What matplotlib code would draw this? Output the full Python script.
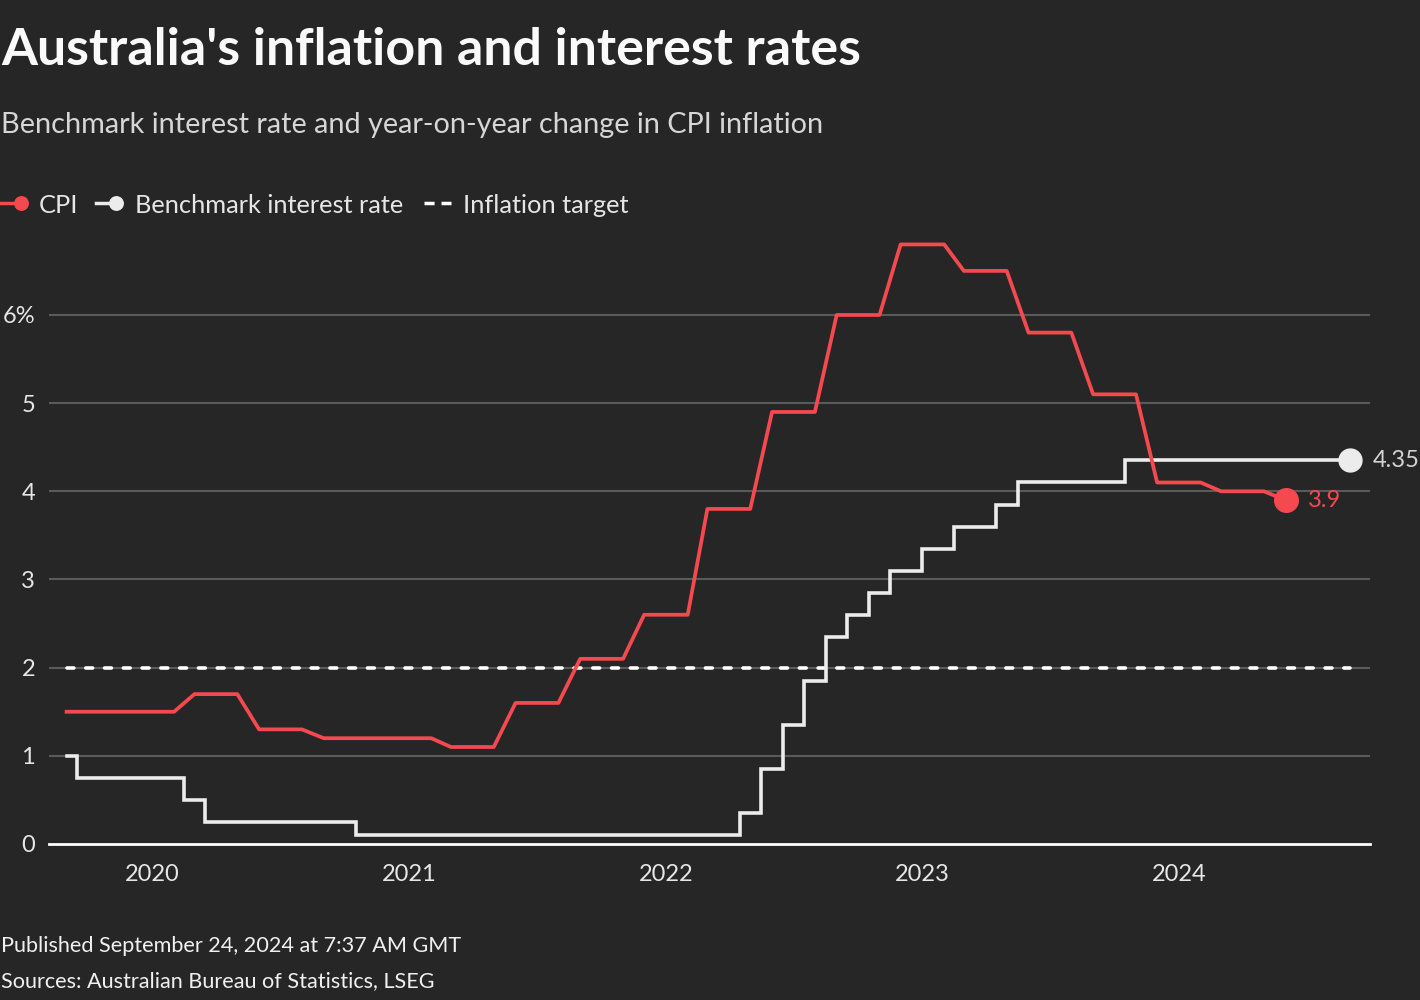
import matplotlib
matplotlib.use("Agg")
import matplotlib.pyplot as plt
import pandas as pd
from matplotlib.lines import Line2D

# CPI, year-on-year %, monthly from Sep 2019 (each quarterly print held three months)
cpi_start = "2019-09-01"
cpi = [
    1.5, 1.5, 1.5, 1.5,
    1.5, 1.5, 1.7, 1.7, 1.7, 1.3, 1.3, 1.3, 1.2, 1.2, 1.2, 1.2,
    1.2, 1.2, 1.1, 1.1, 1.1, 1.6, 1.6, 1.6, 2.1, 2.1, 2.1, 2.6,
    2.6, 2.6, 3.8, 3.8, 3.8, 4.9, 4.9, 4.9, 6.0, 6.0, 6.0, 6.8,
    6.8, 6.8, 6.5, 6.5, 6.5, 5.8, 5.8, 5.8, 5.1, 5.1, 5.1, 4.1,
    4.1, 4.1, 4.0, 4.0, 4.0, 3.9,
]

# RBA cash rate, monthly Sep 2019 - Sep 2024 (no January 2023 reading)
rate_start, rate_end, rate_gap = "2019-09-01", "2024-09-01", "2023-01-01"
rate = [
    1.0, 0.75, 0.75, 0.75,
    0.75, 0.75, 0.5, 0.25, 0.25, 0.25, 0.25, 0.25, 0.25, 0.25, 0.1, 0.1,
    0.1, 0.1, 0.1, 0.1, 0.1, 0.1, 0.1, 0.1, 0.1, 0.1, 0.1, 0.1,
    0.1, 0.1, 0.1, 0.1, 0.35, 0.85, 1.35, 1.85, 2.35, 2.6, 2.85, 3.1,
    3.35, 3.6, 3.6, 3.85, 4.1, 4.1, 4.1, 4.1, 4.1, 4.35, 4.35,
    4.35, 4.35, 4.35, 4.35, 4.35, 4.35, 4.35, 4.35, 4.35,
]

target = 2.0
years = [2020, 2021, 2022, 2023, 2024]
yticks = [0, 1, 2, 3, 4, 5, 6]
ylabels = ["0", "1", "2", "3", "4", "5", "6%"]

cpi_dates = pd.date_range(cpi_start, periods=len(cpi), freq="MS")
months = pd.date_range(rate_start, rate_end, freq="MS")
rate_dates = months[months != pd.Timestamp(rate_gap)]

BG = "#262626"
RED = "#f4494f"
WHITE = "#ececec"
GRID = "#5a5a5a"
TXT = "#e6e6e6"

plt.rcParams["font.family"] = ["Lato", "DejaVu Sans"]

W, H = 1420, 1000
fig = plt.figure(figsize=(W / 100, H / 100), dpi=100, facecolor=BG)
ax = fig.add_axes([49 / W, 156 / H, 1321 / W, 617.2 / H])
ax.set_facecolor(BG)

ax.plot(rate_dates, rate, color=WHITE, lw=2.6, drawstyle="steps-mid",
        solid_joinstyle="miter", zorder=4)
ax.plot(cpi_dates, cpi, color=RED, lw=2.7, solid_joinstyle="round", zorder=5)
ax.plot([rate_dates[0], rate_dates[-1]], [target, target], color="white",
        lw=2.6, dashes=(1.9, 3.3), dash_capstyle="round", zorder=3)

ax.plot(rate_dates[-1], rate[-1], "o", color=WHITE, ms=16.5, zorder=6)
ax.plot(cpi_dates[-1], cpi[-1], "o", color=RED, ms=17, zorder=6)
ax.annotate(f"{rate[-1]:g}", (rate_dates[-1], rate[-1]), xytext=(16, 0),
            textcoords="offset points", va="center", ha="left",
            color="#d4d4d4", fontsize=17, annotation_clip=False)
ax.annotate(f"{cpi[-1]:g}", (cpi_dates[-1], cpi[-1]), xytext=(16, 0),
            textcoords="offset points", va="center", ha="left",
            color=RED, fontsize=17, annotation_clip=False)

ax.set_ylim(0, 7)
ax.set_xlim(pd.Timestamp("2019-08-07"), pd.Timestamp("2024-09-29"))
ax.set_yticks(yticks)
ax.set_yticklabels(ylabels)
ax.set_xticks([pd.Timestamp(f"{y}-01-01") for y in years])
ax.set_xticklabels([str(y) for y in years])
ax.tick_params(axis="both", length=0, labelsize=17, labelcolor=TXT)
ax.tick_params(axis="x", pad=14.5)
ax.tick_params(axis="y", pad=10)
for y in yticks[1:]:
    ax.axhline(y, color=GRID, lw=1.5, zorder=1)
ax.axhline(0, color="white", lw=2.0, zorder=2, clip_on=False)
for s in ax.spines.values():
    s.set_visible(False)

# header
fig.text(0.001, 1 - 65 / H, "Australia's inflation and interest rates",
         fontsize=37.4, fontweight="bold", color="#fafafa", va="baseline")
fig.text(0.001, 1 - 133 / H,
         "Benchmark interest rate and year-on-year change in CPI inflation",
         fontsize=20.8, color="#d6d6d6", va="baseline")

# legend
ly = 1 - 203 / H
lb = 1 - 213 / H
for x0, x1, col, label, tx in [(0, 21, RED, "CPI", 39),
                               (96, 116, WHITE, "Benchmark interest rate", 135)]:
    fig.add_artist(Line2D([x0 / W, x1 / W], [ly, ly], color=col, lw=2.5))
    fig.add_artist(Line2D([x1 / W], [ly], marker="o", ms=9.7, color=col, lw=0))
    fig.text(tx / W, lb, label, fontsize=18.3, color=TXT, va="baseline")
fig.add_artist(Line2D([424 / W, 451 / W], [ly, ly], color="white", lw=2.5,
                      dashes=(2.9, 2.0)))
fig.text(463 / W, lb, "Inflation target", fontsize=18.3, color=TXT, va="baseline")

# footer
fig.text(0.001, 1 - 952 / H, "Published September 24, 2024 at 7:37 AM GMT",
         fontsize=15.6, color="#f0f0f0", va="baseline")
fig.text(0.001, 1 - 987 / H, "Sources: Australian Bureau of Statistics, LSEG",
         fontsize=15.6, color="#f0f0f0", va="baseline")

fig.savefig("out.png", dpi=100, facecolor=BG)
